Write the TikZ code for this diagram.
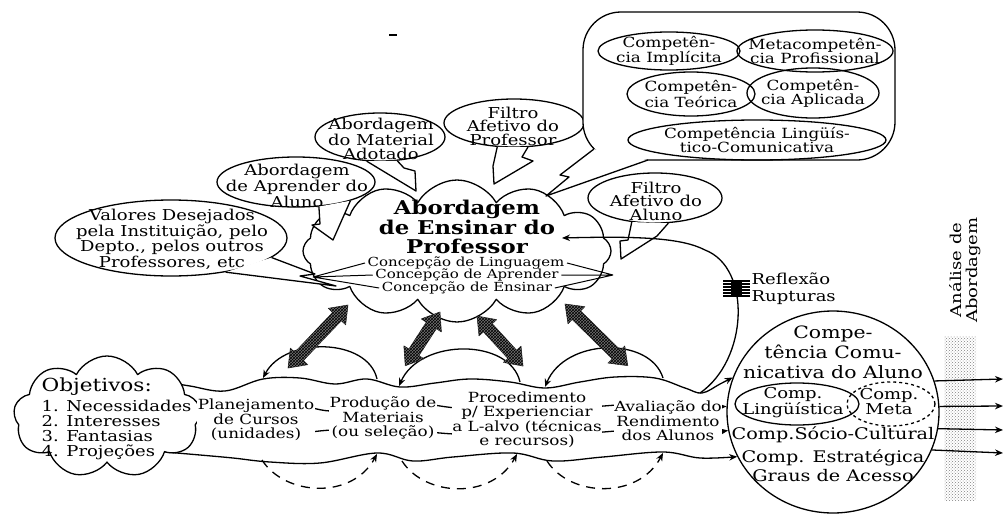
\documentclass[tikz,border=0pt]{standalone}
\usepackage{fontspec}
\setmainfont{DejaVu Serif}[FakeStretch=1.2]
\usetikzlibrary{shapes.geometric,shapes.symbols,arrows.meta,patterns}
\newcommand\fsz[2]{\fontsize{#1}{#2}\selectfont}

\begin{document}
\begin{tikzpicture}[x=1pt,y=-1pt,line width=1.3pt,line join=round,
  bub/.style={ellipse,draw,fill=white,inner sep=0pt},
  btxt/.style={align=center,inner sep=0pt,font=\fsz{15}{13.5}},
  ctxt/.style={align=center,inner sep=0pt,font=\fsz{14}{14}},
  ring/.style={ellipse,draw,inner sep=0pt},
  conc/.style={inner sep=2pt,font=\fsz{12.5}{12.5}},
  stage/.style={align=center,fill=white,inner sep=0.5pt,font=\fsz{14}{14.5}},
  arr/.style={-{Stealth[length=8pt,width=6.5pt]}},
  hop/.style={dash pattern=on 9pt off 7pt},
  pics/hatcharrow/.style={code={
    \path[fill=black!55,draw=black!75,line width=0.6pt,
          postaction={pattern=crosshatch,pattern color=black}]
      (0,0) -- (16,12) -- (16,6) -- (#1-16,6) -- (#1-16,12) -- (#1,0)
      -- (#1-16,-12) -- (#1-16,-6) -- (16,-6) -- (16,-12) -- cycle;}}
]
\useasboundingbox (0,0) rectangle (1004,514);

% stray mark at the top
\draw[line width=1.2pt] (389,35) -- (397,35);

% ---------- student's communicative competence ----------
\node[ring,minimum width=212pt,minimum height=202pt] (acom) at (833,412) {};
\node[align=center,inner sep=0pt,font=\fsz{17}{20}] (acomT) at (833,352)
  {Compe-\\tência Comu-\\nicativa do Aluno};
\node[ring,minimum width=124pt,minimum height=42pt] (lng) at (797,404) {};
\node[align=center,inner sep=0pt,font=\fsz{15}{15}] (lngT) at (793,403) {Comp.\\Lingüística};
\node[ring,dashed,minimum width=88pt,minimum height=44pt] (meta) at (891,404) {};
\node[align=center,inner sep=0pt,font=\fsz{15}{15}] (metaT) at (889,402) {Comp.\\Meta};
\node[inner sep=0pt,font=\fsz{16}{20}] (scu) at (833,435) {Comp.Sócio-Cultural};
\node[align=center,inner sep=0pt,font=\fsz{16}{19}] (est) at (833,466)
  {Comp. Estratégica\\Graus de Acesso};

% ---------- the band of four strands ----------
\draw[arr] plot[smooth,tension=0.6] coordinates {(160,381) (190,386) (225,391)
  (263,379) (300,378) (335,384) (367,379) (400,387) (435,383) (470,379) (510,382)
  (545,388) (580,382) (615,377) (655,378) (685,388) (702,393) (720,384) (acom.161)};
\draw[arr] plot[smooth,tension=0.6] coordinates {(198,402) (240,408) (290,404)
  (330,411) (370,407) (420,404) (460,408) (500,404) (540,410) (590,407) (640,404)
  (690,407) (acom.177)};
\draw[arr] plot[smooth,tension=0.6] coordinates {(204,431) (250,437) (300,433)
  (340,430) (380,436) (420,432) (460,434) (500,430) (540,436) (590,433) (640,430)
  (690,434) (acom.190)};
\draw[arr] plot[smooth,tension=0.6] coordinates {(165,452) (200,455) (233,458)
  (270,462) (320,463) (377,453) (413,461) (453,457) (513,453) (553,461) (603,457)
  (663,452) (700,458) (acom.205)};

% objectives cloud
\node[cloud,cloud puffs=9,cloud puff arc=125,cloud ignores aspect,draw,fill=white,
      minimum width=187pt,minimum height=122pt] (obj) at (107,417) {};
\node[anchor=west,align=left,inner sep=0pt,font=\fsz{15}{15}] (objT) at (41,419)
  {{\fsz{18}{18}Objetivos:}\\[3pt]1. Necessidades\\2. Interesses\\3. Fantasias\\4. Projeções};

% stages
\node[stage] (pla) at (256,420) {Planejamento\\de Cursos\\(unidades)};
\node[stage] (prd) at (383,418) {Produção de\\Materiais\\(ou seleção)};
\node[stage] (prc) at (527,420) {Procedimento\\p/ Experienciar\\a L-alvo (técnicas\\e recursos)};
\node[stage] (ava) at (668,421) {Avaliação do\\Rendimento\\dos Alunos};

% arcs above the band (going back)
\coordinate (a1s) at (377,379); \coordinate (a1e) at (263,378);
\coordinate (a2s) at (520,382); \coordinate (a2e) at (399,386);
\coordinate (a3s) at (663,378); \coordinate (a3e) at (545,387);
\draw[arr] (a1s) .. controls (368,338) and (285,336) .. (a1e);
\draw[arr] (a2s) .. controls (510,338) and (420,338) .. (a2e);
\draw[arr] (a3s) .. controls (650,336) and (565,338) .. (a3e);

% dashed arcs below the band (going forward)
\coordinate (d1s) at (262,460); \coordinate (d1e) at (377,454);
\coordinate (d2s) at (402,461); \coordinate (d2e) at (517,454);
\coordinate (d3s) at (547,461); \coordinate (d3e) at (663,453);
\draw[arr,hop] (d1s) .. controls (285,496) and (352,500) .. (d1e);
\draw[arr,hop] (d2s) .. controls (425,497) and (492,500) .. (d2e);
\draw[arr,hop] (d3s) .. controls (570,497) and (638,500) .. (d3e);

% ---------- teacher's approach cloud ----------
\node[cloud,cloud puffs=12,cloud puff arc=120,cloud ignores aspect,draw,fill=white,
      minimum width=308pt,minimum height=142pt] (cloudP) at (457,251) {};
\node[align=center,inner sep=0pt,font=\bfseries\fsz{19}{19.5}] (title) at (467,227)
  {Abordagem\\de Ensinar do\\Professor};
\node[conc] (c1) at (466,263) {Concepção de Linguagem};
\node[conc] (c2) at (467,275) {Concepção de Aprender};
\node[conc] (c3) at (467,288) {Concepção de Ensinar};
\coordinate (cL) at (313,277); \coordinate (cR) at (613,275);
\draw[line width=1pt] (cL) -- (c1.west) (cL) -- (c2.west) (cL) -- (c3.west)
  (c1.east) -- (cR) (c2.east) -- (cR) (c3.east) -- (cR);

% hatched two-way arrows between the cloud and the band
\coordinate (h1) at (348,305); \coordinate (h2) at (440,312);
\coordinate (h3) at (477,316); \coordinate (h4) at (565,304);
\pic[rotate=226.4] at (h1) {hatcharrow=87};
\pic[rotate=237.1] at (h2) {hatcharrow=64};
\pic[rotate=-47.4] at (h3) {hatcharrow=68};
\pic[rotate=-44.5] at (h4) {hatcharrow=88};

% ---------- speech bubbles ----------
\node[bub,minimum width=232pt,minimum height=76pt] (val) at (171,238) {};
\node[btxt] (valT) at (172,239) {Valores Desejados\\pela Instituição, pelo\\Depto., pelos outros\\Professores, etc};
\coordinate (valTip) at (336,286);
\fill[white] (val.-32) -- (valTip) -- (300,276) -- (315,274) -- (val.-11) -- cycle;
\draw (val.-32) -- (valTip) -- (300,276) -- (315,274) -- (val.-11);

\node[bub,minimum width=158pt,minimum height=50pt] (apr) at (296,182) {};
\node[btxt] (aprT) at (297,186) {Abordagem\\de Aprender do\\Aluno};
\coordinate (aprTip) at (333,240);
\fill[white] (apr.-47) -- (320,224) -- (312,225) -- (aprTip) -- (apr.-19) -- cycle;
\draw (apr.-47) -- (320,224) -- (312,225) -- (aprTip) -- (apr.-19);

\node[bub,minimum width=130pt,minimum height=48pt] (mat) at (380,137) {};
\node[btxt] (matT) at (381,139) {Abordagem\\do Material\\Adotado};
\coordinate (matTip) at (416,191);
\fill[white] (mat.-119) -- (matTip) -- (415,171) -- (404,168) -- (mat.-54) -- cycle;
\draw (mat.-119) -- (matTip) -- (415,171) -- (404,168) -- (mat.-54);

\node[bub,minimum width=140pt,minimum height=48pt] (fpr) at (514,123) {};
\node[btxt] (fprT) at (513,126) {Filtro\\Afetivo do\\Professor};
\coordinate (fprTip) at (494,184);
\fill[white] (fpr.-125) -- (493,166) -- (fprTip) -- (533,161) -- (522,157) -- (fpr.-60) -- cycle;
\draw (fpr.-125) -- (493,166) -- (fprTip) -- (533,161) -- (522,157) -- (fpr.-60);

% ---------- competences box ----------
\node[draw,fill=white,rounded corners=38pt,minimum width=312pt,minimum height=148pt,
      inner sep=0pt] (box) at (739,86) {};
\node[ring,minimum width=142pt,minimum height=38pt] (imp) at (669,51) {};
\node[ctxt] (impT) at (669,51) {Competên-\\cia Implícita};
\node[ring,minimum width=156pt,minimum height=42pt] (met) at (815,51) {};
\node[ctxt] (metT) at (815,51) {Metacompetên-\\cia Profissional};
\node[ring,minimum width=128pt,minimum height=44pt] (teo) at (691,94) {};
\node[ctxt] (teoT) at (691,94) {Competên-\\cia Teórica};
\node[ring,minimum width=132pt,minimum height=50pt] (apl) at (813,93) {};
\node[ctxt] (aplT) at (813,93) {Competên-\\cia Aplicada};
\node[ring,minimum width=258pt,minimum height=40pt] (lin) at (757,140) {};
\node[ctxt] (linT) at (757,140) {Competência Lingüís-\\tico-Comunicativa};
\coordinate (boxTip) at (546,196);
\fill[white] (594,149) -- (560,175) -- (569,177) -- (boxTip) -- (648,160) -- cycle;
\draw (594,149) -- (560,175) -- (569,177) -- (boxTip) -- (648,160);

% student's affective filter
\node[bub,minimum width=134pt,minimum height=50pt] (fal) at (655,198) {};
\node[btxt] (falT) at (656,201) {Filtro\\Afetivo do\\Aluno};
\coordinate (falTip) at (621,259);
\fill[white] (fal.-134) -- (628,240) -- (620,241) -- (falTip) -- (657,236) -- (fal.-62) -- cycle;
\draw (fal.-134) -- (628,240) -- (620,241) -- (falTip) -- (657,236) -- (fal.-62);

% ---------- feedback loop: reflection and ruptures ----------
\coordinate (fb0) at (700,393); \coordinate (fb1) at (562,238);
\draw[arr] (fb0) .. controls (748,360) and (752,268) .. (705,250)
  .. controls (682,238) and (640,236) .. (fb1);
\foreach \yy in {281,284,...,296} \draw[line width=1.2pt] (723,\yy) -- (750,\yy);
\fill (731,281) rectangle (742,296);
\node[anchor=west,align=left,inner sep=0pt,font=\fsz{15}{17}] (refl) at (751,289)
  {Reflexão\\Rupturas};

% ---------- approach analysis column ----------
\fill[pattern=crosshatch dots,pattern color=black!50] (944,336) rectangle (976,500);
\node[rotate=90,align=center,inner sep=0pt,font=\fsz{15}{16}] (ana) at (965,270)
  {Análise de\\Abordagem};
\coordinate (o1) at (1003,379); \coordinate (o2) at (1003,406);
\coordinate (o3) at (1003,430); \coordinate (o4) at (1003,453);
\draw[arr] (acom.17) -- (o1);
\draw[arr] (acom.3) -- (o2);
\draw[arr] (acom.-9) -- (o3);
\draw[arr] (acom.-21) -- (o4);
\end{tikzpicture}
\end{document}
